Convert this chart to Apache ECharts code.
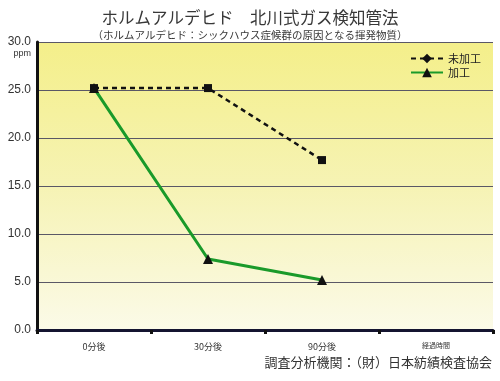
<!DOCTYPE html>
<html><head><meta charset="utf-8">
<script src="https://cdn.jsdelivr.net/npm/echarts@6/dist/echarts.min.js"></script>
<style>html,body{margin:0;padding:0;background:#fff}#c{width:500px;height:381px}</style>
</head><body><div id="c"></div>
<script>
const categories = ['0分後', '30分後', '90分後', '経過時間'];
const untreated = [25.2, 25.2, 17.7, null];
const treated = [25.2, 7.4, 5.2, null];
const yTicks = [0, 5, 10, 15, 20, 25, 30];

const jp = '"Noto Sans CJK JP", sans-serif';
const chart = echarts.init(document.getElementById('c'));
chart.setOption({
  animation: false,
  backgroundColor: '#ffffff',
  title: [
    { text: 'ホルムアルデヒド　北川式ガス検知管法', left: 'center', top: 4,
      textStyle: { fontFamily: jp, fontSize: 16.5, fontWeight: 'normal', color: '#383838' } },
    { text: '（ホルムアルデヒド：シックハウス症候群の原因となる揮発物質）', left: 'center', top: 25,
      textStyle: { fontFamily: jp, fontSize: 10.5, fontWeight: 'normal', color: '#383838' } },
    { text: '調査分析機関：（財）日本紡績検査協会', right: 3, top: 351,
      textStyle: { fontFamily: jp, fontSize: 13, fontWeight: 'normal', color: '#333' } }
  ],
  legend: {
    orient: 'vertical', right: 14, top: 48, itemWidth: 32, itemHeight: 12, itemGap: 3,
    textStyle: { fontFamily: jp, fontSize: 11, color: '#222' },
    data: ['未加工', '加工']
  },
  grid: { left: 37, right: 7, top: 42, bottom: 51, show: true, borderWidth: 0,
    backgroundColor: { type: 'linear', x: 0, y: 0, x2: 0, y2: 1, colorStops: [
      { offset: 0, color: '#f4ef8a' }, { offset: 0.5, color: '#f6f3b4' }, { offset: 1, color: '#fbfae8' }] } },
  xAxis: {
    type: 'category', data: categories, boundaryGap: true,
    axisLine: { lineStyle: { color: '#141430', width: 3 } },
    axisTick: { show: true, length: 4, lineStyle: { color: '#111', width: 3 } },
    axisLabel: { fontFamily: jp, fontSize: 9, color: '#333', margin: 12,
      formatter: v => v === '経過時間' ? '{s|' + v + '}' : v,
      rich: { s: { fontFamily: jp, fontSize: 7, color: '#333' } } }
  },
  yAxis: {
    type: 'value', min: 0, max: 30, interval: 5,
    axisLine: { show: true, lineStyle: { color: '#111', width: 3 } },
    axisTick: { show: false },
    axisLabel: { fontFamily: 'Liberation Sans', fontSize: 12, color: '#333', margin: 6,
      formatter: v => {
        if (!yTicks.includes(v)) return '';
        if (v === 30) return '{e|}\n{a|30.0}\n{p|ppm}';
        return v.toFixed(1);
      },
      rich: {
        e: { height: 10, lineHeight: 10, fontSize: 9 },
        a: { fontFamily: 'Liberation Sans', fontSize: 12, color: '#333', lineHeight: 13, align: 'right' },
        p: { fontFamily: 'Liberation Sans', fontSize: 9, color: '#333', lineHeight: 10, height: 10, align: 'right' }
      } },
    splitLine: { lineStyle: { color: '#5a5866', width: 1 } }
  },
  series: [
    { name: '未加工', type: 'line', symbol: 'diamond', symbolSize: 9,
      data: untreated.map(v => v === null ? null : { value: v, symbol: 'rect', symbolSize: 8 }),
      itemStyle: { color: '#111' },
      lineStyle: { color: '#111', width: 2.5, type: [5, 4] }, z: 3 },
    { name: '加工', type: 'line', symbol: 'triangle', symbolSize: 10,
      data: treated,
      itemStyle: { color: '#111' },
      lineStyle: { color: '#1a9a2a', width: 3 }, z: 4 }
  ]
});
</script></body></html>
